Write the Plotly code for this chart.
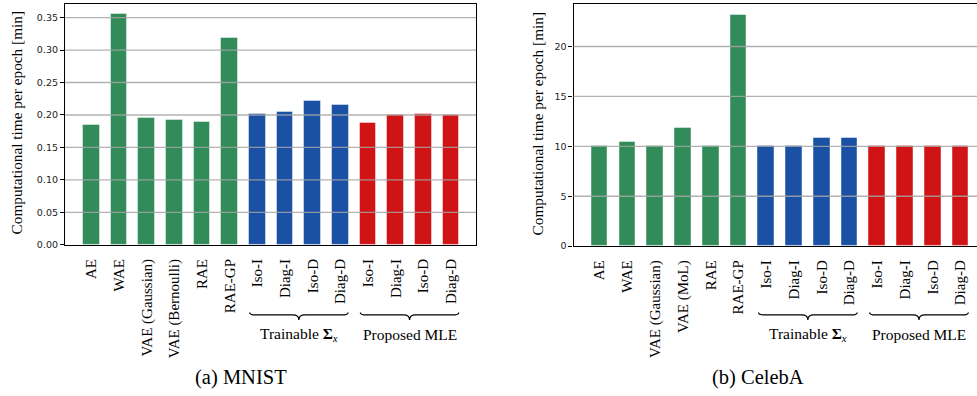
import plotly.graph_objects as go

# Training cost per epoch for each model (minutes)
mnist_models = ["AE", "WAE", "VAE (Gaussian)", "VAE (Bernoulli)", "RAE", "RAE-GP",
                "Iso-I", "Diag-I", "Iso-D", "Diag-D",
                "Iso-I", "Diag-I", "Iso-D", "Diag-D"]
mnist_time = [0.185, 0.355, 0.195, 0.193, 0.190, 0.318,
              0.201, 0.205, 0.222, 0.215,
              0.188, 0.200, 0.202, 0.200]

celeba_models = ["AE", "WAE", "VAE (Gaussian)", "VAE (MoL)", "RAE", "RAE-GP",
                 "Iso-I", "Diag-I", "Iso-D", "Diag-D",
                 "Iso-I", "Diag-I", "Iso-D", "Diag-D"]
celeba_time = [10.0, 10.4, 10.0, 11.8, 10.0, 23.2,
               10.0, 10.0, 10.8, 10.8,
               10.0, 10.0, 10.0, 10.0]

# Model family of each bar: baseline / trainable covariance / proposed MLE
family = ["base"] * 6 + ["train"] * 4 + ["mle"] * 4
family_color = {"base": "#318c5a", "train": "#1b51a4", "mle": "#d01416"}

mnist_ticks = [0.0, 0.05, 0.10, 0.15, 0.20, 0.25, 0.30, 0.35]
celeba_ticks = [0, 5, 10, 15, 20]

group_names = ["Trainable <b>Σ</b><sub><i>x</i></sub>", "Proposed MLE"]
group_spans = [(6, 9), (10, 13)]

W, H = 977, 396
SERIF = "Liberation Serif"
SANS = "DejaVu Sans"


def py(px):
    """Convert a pixel row (from the top) into paper coordinates."""
    return 1 - px / H


fig = go.Figure()

colors = [family_color[f] for f in family]
xs = list(range(len(mnist_models)))

fig.add_trace(go.Bar(x=xs, y=mnist_time, width=0.6, marker_color=colors,
                     marker_line=dict(color="rgba(255,255,255,0.45)", width=1),
                     xaxis="x", yaxis="y", showlegend=False))
fig.add_trace(go.Bar(x=xs, y=celeba_time, width=0.6, marker_color=colors,
                     marker_line=dict(color="rgba(255,255,255,0.45)", width=1),
                     xaxis="x2", yaxis="y2", showlegend=False))

xcommon = dict(tickmode="array", tickvals=xs, tickangle=-90, showgrid=False,
               zeroline=False, showline=True, linecolor="black", linewidth=1.2,
               ticks="", ticklabelstandoff=7,
               tickfont=dict(family=SERIF, size=15, color="black"))
ycommon = dict(showgrid=False, zeroline=False, showline=True, linecolor="black",
               linewidth=1.2, ticks="outside", ticklen=4, tickwidth=1,
               tickcolor="black", tickfont=dict(family=SANS, size=9.5, color="#222"))

fig.update_layout(
    width=W, height=H,
    margin=dict(l=0, r=0, t=0, b=0),
    paper_bgcolor="white", plot_bgcolor="white",
    bargap=0,
    xaxis=dict(domain=[65 / W, 476 / W], range=[-0.95, 13.9], anchor="y",
               ticktext=mnist_models, mirror=True, **xcommon),
    yaxis=dict(domain=[py(248), py(4)], range=[0, 0.371], anchor="x",
               tickvals=mnist_ticks, tickformat=".2f", mirror=True, **ycommon),
    xaxis2=dict(domain=[573.5 / W, 1.0], range=[-0.94, 13.59], anchor="y2",
                ticktext=celeba_models, mirror=True, **xcommon),
    yaxis2=dict(domain=[py(249.3), py(4)], range=[0, 24.26], anchor="x2",
                tickvals=celeba_ticks, mirror=False, **ycommon),
)

shapes = []
annotations = []

# Horizontal grid lines drawn over the bars
for ticks, xr, yr in [(mnist_ticks, "x domain", "y"), (celeba_ticks, "x2 domain", "y2")]:
    for t in ticks:
        if t == 0:
            continue
        shapes.append(dict(type="line", xref=xr, yref=yr, x0=0, x1=1, y0=t, y1=t,
                           line=dict(color="rgba(165,165,165,0.85)", width=1.3),
                           layer="above"))

# Curly braces under the grouped tick labels, with the group names
for xr in ["x", "x2"]:
    for name, (a, b) in zip(group_names, group_spans):
        x0, x1 = a - 0.28, b + 0.28
        xc = (x0 + x1) / 2
        d = 0.22
        ye, ym, yt = py(316.5), py(319), py(324)
        path = (f"M {x0},{ye} Q {x0},{ym} {x0 + d},{ym} "
                f"L {xc - d},{ym} Q {xc},{ym} {xc},{yt} "
                f"Q {xc},{ym} {xc + d},{ym} L {x1 - d},{ym} "
                f"Q {x1},{ym} {x1},{ye}")
        shapes.append(dict(type="path", xref=xr, yref="paper", path=path,
                           line=dict(color="black", width=1.2)))
        annotations.append(dict(x=xc, y=py(338.5), xref=xr, yref="paper",
                                text=name, showarrow=False,
                                font=dict(family=SERIF, size=15.5, color="black"),
                                xanchor="center", yanchor="middle"))

# Axis titles
for xpix, ypix in [(16, 125), (537, 126)]:
    annotations.append(dict(x=xpix / W, y=py(ypix), xref="paper", yref="paper",
                            text="Computational time per epoch [min]", textangle=-90,
                            showarrow=False, xanchor="center", yanchor="middle",
                            font=dict(family=SERIF, size=15.3, color="black")))

# Panel captions
for text, xpix in [("(a) MNIST", 241), ("(b) CelebA", 758)]:
    annotations.append(dict(x=xpix / W, y=py(382), xref="paper", yref="paper",
                            text=text, showarrow=False, xanchor="center",
                            yanchor="middle",
                            font=dict(family=SERIF, size=20.5, color="black")))

fig.update_layout(shapes=shapes, annotations=annotations)

fig.write_html("out.html")
